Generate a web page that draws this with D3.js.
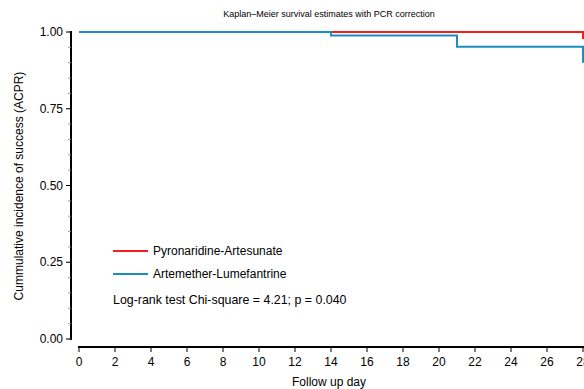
<!DOCTYPE html>
<html><head><meta charset="utf-8">
<script src="https://cdn.jsdelivr.net/npm/d3@7"></script>
<style>body{margin:0;background:#fff}svg{display:block}</style>
</head><body>
<svg id="c" width="584" height="389"></svg>
<script>
const seriesNames = ["Pyronaridine-Artesunate", "Artemether-Lumefantrine"];
const seriesColors = ["#ff1a1a", "#1a8fbf"];
// step function points: [day, survival]
const paDays = [0, 28, 28];
const paSurv = [1.00, 1.00, 0.977];
const alDays = [0, 14, 14, 21, 21, 28, 28];
const alSurv = [1.00, 1.00, 0.989, 0.989, 0.952, 0.952, 0.90];
const xTicks = d3.range(0, 29, 2);
const yTicks = [0, 0.25, 0.5, 0.75, 1.0];
const yMinor = d3.range(0, 1.0001, 0.05);
const title = "Kaplan\u2013Meier survival estimates with PCR correction";
const xTitle = "Follow up day";
const yTitle = "Cummulative incidence of success (ACPR)";
const statText = "Log-rank test Chi-square = 4.21; p = 0.040";

const svg = d3.select("#c");
const font = "'Liberation Sans', Arial, sans-serif";
const x = d3.scaleLinear().domain([0, 28]).range([79, 583]);
const y = d3.scaleLinear().domain([0, 1]).range([339, 32]);

// y axis
const yAxis = svg.append("g").attr("transform", "translate(71,0)");
yAxis.append("line").attr("y1", y(1) - 1).attr("y2", y(0) + 1).attr("stroke", "#000").attr("stroke-width", 2);
yAxis.selectAll(".mn").data(yMinor).join("line").attr("x1", -3).attr("x2", 0)
  .attr("y1", d => y(d)).attr("y2", d => y(d)).attr("stroke", "#999").attr("stroke-width", 1);
yAxis.selectAll(".mj").data(yTicks).join("line").attr("x1", -5).attr("x2", 0)
  .attr("y1", d => y(d)).attr("y2", d => y(d)).attr("stroke", "#000").attr("stroke-width", 1);
yAxis.selectAll("text").data(yTicks).join("text").attr("x", -8).attr("y", d => y(d) + 4)
  .attr("text-anchor", "end").attr("font-family", font).attr("font-size", 12).text(d => d.toFixed(2));

// x axis
const xAxis = svg.append("g").attr("transform", "translate(0,347)");
xAxis.append("line").attr("x1", 78).attr("x2", 584).attr("stroke", "#000").attr("stroke-width", 2);
xAxis.selectAll(".t").data(xTicks).join("line").attr("x1", d => x(d)).attr("x2", d => x(d))
  .attr("y1", 0).attr("y2", 5).attr("stroke", "#000").attr("stroke-width", 1);
xAxis.selectAll("text").data(xTicks).join("text").attr("x", d => x(d)).attr("y", 19)
  .attr("text-anchor", "middle").attr("font-family", font).attr("font-size", 12).text(d => d);

// titles
svg.append("text").attr("x", 329).attr("y", 17).attr("text-anchor", "middle")
  .attr("font-family", font).attr("font-size", 9).text(title);
svg.append("text").attr("x", 329).attr("y", 386).attr("text-anchor", "middle")
  .attr("font-family", font).attr("font-size", 12).text(xTitle);
svg.append("text").attr("transform", "translate(23,186) rotate(-90)").attr("text-anchor", "middle")
  .attr("font-family", font).attr("font-size", 12).text(yTitle);

// lines
const line = d3.line().x(d => x(d[0])).y(d => y(d[1]));
const pa = paDays.map((d, i) => [d, paSurv[i]]);
const al = alDays.map((d, i) => [d, alSurv[i]]);
svg.append("path").attr("d", line(pa)).attr("fill", "none").attr("stroke", seriesColors[0]).attr("stroke-width", 2);
svg.append("path").attr("d", line(al)).attr("fill", "none").attr("stroke", seriesColors[1]).attr("stroke-width", 2);

// legend
const lg = svg.append("g");
seriesNames.forEach((n, i) => {
  const yy = 251 + i * 23;
  lg.append("line").attr("x1", 113).attr("x2", 148).attr("y1", yy).attr("y2", yy)
    .attr("stroke", seriesColors[i]).attr("stroke-width", 2);
  lg.append("text").attr("x", 153).attr("y", yy + 4).attr("font-family", font).attr("font-size", 12).text(n);
});
lg.append("text").attr("x", 113).attr("y", 304).attr("font-family", font).attr("font-size", 12.4).text(statText);
</script>
</body></html>
